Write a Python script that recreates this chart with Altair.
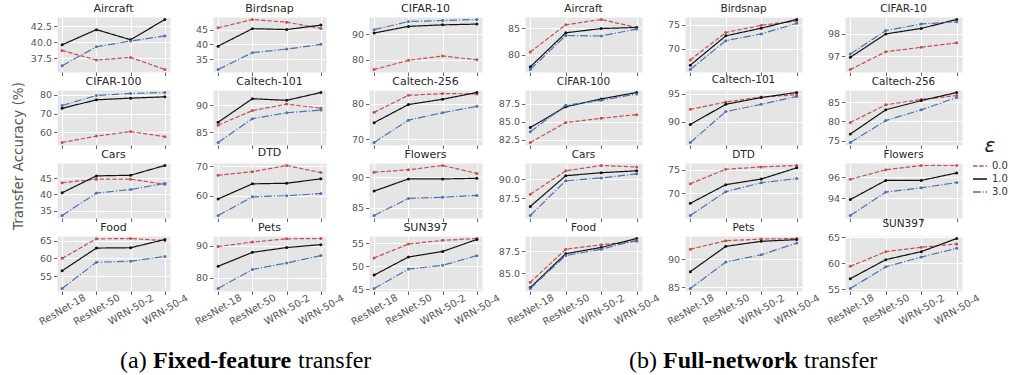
import altair as alt
import pandas as pd

MODELS = ["ResNet-18", "ResNet-50", "WRN-50-2", "WRN-50-4"]
EPS = ["0.0", "1.0", "3.0"]
DATASETS = ["Aircraft", "Birdsnap", "CIFAR-10", "CIFAR-100", "Caltech-101", "Caltech-256",
            "Cars", "DTD", "Flowers", "Food", "Pets", "SUN397"]

# ---- (a) Fixed-feature transfer ----
FIXED_EPS0 = {
    "Aircraft": [38.7, 37.2, 37.6, 35.7], "Birdsnap": [45.6, 48.4, 47.5, 45.4],
    "CIFAR-10": [76.1, 79.7, 81.4, 79.9], "CIFAR-100": [54.6, 58.0, 60.4, 57.7],
    "Caltech-101": [86.3, 89.0, 90.2, 89.45], "Caltech-256": [77.6, 82.4, 82.9, 82.8],
    "Cars": [43.6, 44.7, 44.7, 43.1], "DTD": [66.9, 68.1, 70.2, 67.8],
    "Flowers": [90.8, 91.2, 91.9, 90.6], "Food": [60.0, 65.5, 65.6, 65.0],
    "Pets": [89.7, 91.1, 92.1, 92.2], "SUN397": [51.8, 54.8, 55.6, 56.0],
}
FIXED_EPS1 = {
    "Aircraft": [39.6, 42.0, 40.4, 43.6], "Birdsnap": [39.4, 45.3, 45.0, 46.5],
    "CIFAR-10": [90.4, 93.0, 93.6, 93.9], "CIFAR-100": [72.8, 77.3, 78.2, 78.9],
    "Caltech-101": [86.85, 91.2, 90.9, 92.35], "Caltech-256": [74.7, 79.8, 81.3, 83.2],
    "Cars": [40.5, 45.7, 45.9, 48.9], "DTD": [58.9, 64.0, 64.2, 65.7],
    "Flowers": [87.7, 89.7, 89.7, 89.8], "Food": [56.5, 62.9, 63.0, 65.3],
    "Pets": [83.6, 87.9, 89.4, 90.3], "SUN397": [48.1, 52.0, 53.2, 55.8],
}
FIXED_EPS3 = {
    "Aircraft": [36.3, 39.3, 40.2, 41.0], "Birdsnap": [31.5, 37.2, 38.4, 40.0],
    "CIFAR-10": [91.7, 94.9, 95.3, 95.7], "CIFAR-100": [74.3, 79.6, 80.7, 81.2],
    "Caltech-101": [83.1, 87.5, 88.6, 89.1], "Caltech-256": [69.1, 75.4, 77.5, 79.3],
    "Cars": [33.5, 40.4, 41.5, 43.4], "DTD": [53.3, 59.6, 60.0, 60.7],
    "Flowers": [83.7, 86.5, 86.7, 87.0], "Food": [51.5, 58.9, 59.2, 60.5],
    "Pets": [76.7, 82.6, 84.6, 86.9], "SUN397": [45.2, 49.4, 50.2, 52.3],
}
FIXED_TICKS = {
    "Aircraft": [37.5, 40.0, 42.5], "Birdsnap": [35, 40, 45], "CIFAR-10": [80, 90],
    "CIFAR-100": [60, 70, 80], "Caltech-101": [85, 90], "Caltech-256": [70, 80],
    "Cars": [35, 40, 45], "DTD": [60, 70], "Flowers": [85, 90], "Food": [55, 60, 65],
    "Pets": [80, 90], "SUN397": [45, 50, 55],
}

# ---- (b) Full-network transfer ----
FULL_EPS0 = {
    "Aircraft": [80.5, 85.6, 86.6, 85.1], "Birdsnap": [67.7, 73.4, 74.9, 75.8],
    "CIFAR-10": [96.4, 97.2, 97.4, 97.6], "CIFAR-100": [82.1, 84.9, 85.5, 86.0],
    "Caltech-101": [92.2, 93.5, 94.4, 94.8], "Caltech-256": [79.7, 84.3, 85.7, 86.7],
    "Cars": [88.0, 91.1, 91.8, 91.6], "DTD": [72.0, 75.1, 75.6, 75.9],
    "Flowers": [95.8, 96.7, 97.1, 97.1], "Food": [84.0, 87.7, 88.2, 88.6],
    "Pets": [91.8, 93.3, 93.6, 93.7], "SUN397": [59.4, 62.25, 63.1, 63.75],
}
FULL_EPS1 = {
    "Aircraft": [77.7, 84.1, 84.9, 85.1], "Birdsnap": [66.6, 72.7, 74.3, 76.1],
    "CIFAR-10": [96.95, 98.0, 98.25, 98.65], "CIFAR-100": [84.2, 87.1, 88.2, 89.1],
    "Caltech-101": [89.5, 93.1, 94.3, 95.2], "Caltech-256": [76.7, 83.0, 85.4, 87.5],
    "Cars": [86.4, 90.45, 90.85, 91.1], "DTD": [67.8, 71.8, 73.0, 75.4],
    "Flowers": [93.9, 95.7, 95.7, 96.4], "Food": [83.4, 87.2, 87.9, 88.9],
    "Pets": [87.8, 92.3, 93.2, 93.5], "SUN397": [57.0, 60.7, 62.25, 64.8],
}
FULL_EPS3 = {
    "Aircraft": [77.2, 83.6, 83.5, 84.8], "Birdsnap": [65.7, 71.7, 73.1, 75.3],
    "CIFAR-10": [97.1, 98.15, 98.45, 98.55], "CIFAR-100": [83.6, 87.3, 88.0, 88.9],
    "Caltech-101": [86.3, 91.8, 93.1, 94.5], "Caltech-256": [74.5, 80.2, 83.0, 86.2],
    "Cars": [85.2, 89.8, 90.15, 90.7], "DTD": [65.2, 70.3, 72.2, 73.1],
    "Flowers": [92.4, 94.6, 95.0, 95.5], "Food": [83.3, 87.0, 87.7, 88.7],
    "Pets": [84.8, 89.5, 90.8, 92.9], "SUN397": [55.1, 59.3, 61.2, 62.9],
}
FULL_TICKS = {
    "Aircraft": [80, 85], "Birdsnap": [70, 75], "CIFAR-10": [97, 98],
    "CIFAR-100": [82.5, 85.0, 87.5], "Caltech-101": [90, 95], "Caltech-256": [75, 80, 85],
    "Cars": [87.5, 90.0], "DTD": [70, 75], "Flowers": [94, 96], "Food": [85.0, 87.5],
    "Pets": [85, 90], "SUN397": [55, 60, 65],
}

CAPTION_A = [("(a)", False), ("Fixed-feature", True), ("transfer", False)]
CAPTION_B = [("(b)", False), ("Full-network", True), ("transfer", False)]

COLORS = ["#C44E52", "#111111", "#4C72B0"]
DASHES = [[4.4, 1.9], [1, 0], [7.7, 1.9, 1.2, 1.9]]

LEGEND = alt.Legend(
    title="ε", orient="none", legendX=915, legendY=119,
    symbolType="stroke", symbolSize=196, symbolStrokeWidth=1.3,
    titleFont="DejaVu Sans", titleFontStyle="italic", titleFontWeight="normal",
    titleFontSize=20, titleColor="#222222", titlePadding=2, titleAnchor="middle",
    labelFont="DejaVu Sans", labelFontSize=10, labelColor="#333333", rowPadding=0,
)

H = 55


def caption_layers(parts, xs, base_y):
    df = pd.DataFrame({"k": [0]})
    out = []
    for (text, bold), x in zip(parts, xs):
        out.append(
            alt.Chart(df).mark_text(font="Liberation Serif", fontSize=24,
                                    fontWeight="bold" if bold else "normal",
                                    align="left", baseline="alphabetic", color="black")
            .encode(text=alt.value(text), x=alt.value(x), y=alt.value(base_y))
        )
    return out


def panel(name, d0, d1, d3, ticks, width, bottom, title_size, extra=None):
    recs = []
    for e, vals in zip(EPS, [d0[name], d1[name], d3[name]]):
        for m, v in zip(MODELS, vals):
            recs.append({"model": m, "eps": e, "acc": v})
    df = pd.DataFrame(recs)
    lo, hi = df["acc"].min(), df["acc"].max()
    pad = 0.05 * (hi - lo)
    tk = ticks[name]
    fmt = ".1f" if any(float(t) != int(t) for t in tk) else "d"
    xaxis = alt.Axis(title=None, labels=bottom, labelAngle=330, labelAlign="center",
                     labelBaseline="middle", labelPadding=15, labelFontSize=10,
                     grid=True)
    yaxis = alt.Axis(title=None, values=tk, format=fmt, grid=True)
    enc = dict(
        x=alt.X("model:N", sort=MODELS, scale=alt.Scale(type="point", padding=0.15), axis=xaxis),
        y=alt.Y("acc:Q", scale=alt.Scale(domain=[lo - pad, hi + pad], zero=False, nice=False), axis=yaxis),
        color=alt.Color("eps:N", scale=alt.Scale(domain=EPS, range=COLORS), legend=LEGEND),
        strokeDash=alt.StrokeDash("eps:N", scale=alt.Scale(domain=EPS, range=DASHES), legend=LEGEND),
    )
    line = alt.Chart(df).mark_line(strokeWidth=1.2, point=alt.OverlayMarkDef(filled=True, size=9)).encode(**enc)
    layers = [line] + (extra or [])
    return alt.layer(*layers).properties(
        width=width, height=H,
        title=alt.TitleParams(text=name, fontSize=title_size, font="DejaVu Sans",
                              fontWeight="normal", color="#262626", offset=3),
        view=alt.ViewBackground(fill="#E5E5E5", stroke="transparent"),
    )


cells = []
for r in range(4):
    for c in range(3):
        name = DATASETS[r * 3 + c]
        extra = caption_layers(CAPTION_A, [63, 96, 241], 132) if (r == 3 and c == 0) else None
        cells.append(panel(name, FIXED_EPS0, FIXED_EPS1, FIXED_EPS3, FIXED_TICKS, 113, r == 3, 11, extra))
    for c in range(3):
        name = DATASETS[r * 3 + c]
        extra = caption_layers(CAPTION_B, [104, 138, 279], 132) if (r == 3 and c == 0) else None
        cells.append(panel(name, FULL_EPS0, FULL_EPS1, FULL_EPS3, FULL_TICKS, 117, r == 3, 10.5, extra))

chart = alt.concat(
    *cells, columns=6, spacing=alt.RowColnumber(row=18, column=43), bounds="flush"
).properties(
    title=alt.TitleParams(text="Transfer Accuracy (%)", orient="left", anchor="middle",
                          fontSize=13.5, font="DejaVu Sans", fontWeight="normal",
                          color="#555555", offset=4, dx=32),
    padding={"left": 12, "top": 2, "right": 0, "bottom": 0},
).configure_view(stroke="transparent").configure_axis(
    domain=False, gridColor="white", gridWidth=1.1, tickColor="#555555", tickSize=3.5,
    tickWidth=0.9, labelColor="#555555", labelFont="DejaVu Sans", labelFontSize=9.5,
    labelPadding=2,
)

chart.save("out.html", embed_options={"renderer": "svg", "actions": False})
